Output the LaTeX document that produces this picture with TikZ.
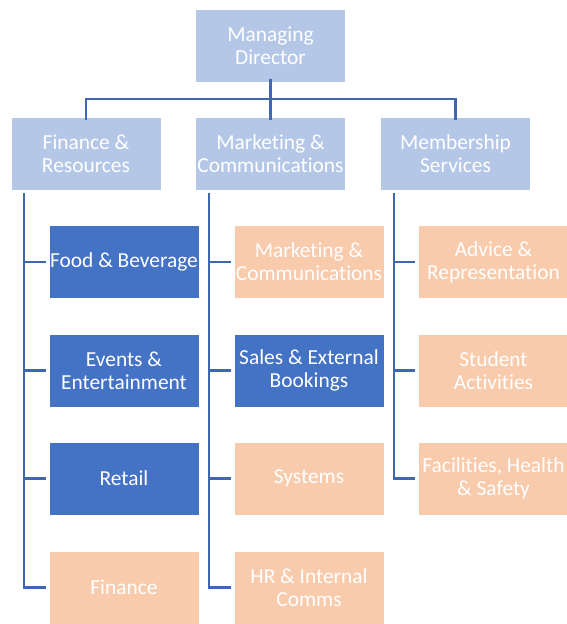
\documentclass[tikz,border=0pt]{standalone}
\usepackage{fontspec}
\setmainfont{Carlito}[Ligatures=NoCommon]
\usetikzlibrary{calc}
\definecolor{headblue}{HTML}{B4C7E7}
\definecolor{darkblue}{HTML}{4472C4}
\definecolor{peach}{HTML}{F8CBAD}
\definecolor{linkblue}{RGB}{64,104,176}
\tikzset{
  unit/.style={draw=white, line width=0.8pt, minimum width=150pt, minimum height=73pt,
    inner sep=0pt, align=center, text=white,
    font=\fontsize{21.4}{23}\selectfont},
  head/.style={unit, fill=headblue},
  core/.style={unit, fill=darkblue},
  support/.style={unit, fill=peach},
  link/.style={draw=linkblue, line width=2.2pt},
}
\begin{document}
\begin{tikzpicture}[x=1pt, y=-1pt]
\useasboundingbox (0,0) rectangle (566,624);

% top level
\node[head] (md) at (270.5,45.5) {Managing\\Director};

% departments
\node[head] (fin) at (86,153.5)    {Finance \&\\Resources};
\node[head] (mkt) at (270.5,153.5) {Marketing \&\\Communications};
\node[head] (mem) at (455.5,153.5) {Membership\\Services};

% Finance & Resources teams
\node[core]    (f1) at (124,262)   {Food \& Beverage};
\node[core]    (f2) at (124,370.5) {Events \&\\Entertainment};
\node[core]    (f3) at (124,478.5) {Retail};
\node[support] (f4) at (124,587.5) {Finance};

% Marketing & Communications teams
\node[support] (m1) at (309,262)   {Marketing \&\\Communications};
\node[core]    (m2) at (309,370.5) {Sales \& External\\Bookings};
\node[support] (m3) at (309,478.5) {Systems};
\node[support] (m4) at (309,587.5) {HR \& Internal\\Comms};

% Membership Services teams
\node[support] (s1) at (493.5,262)   {Advice \&\\Representation};
\node[support] (s2) at (493.5,370.5) {Student\\Activities};
\node[support] (s3) at (493.5,478.5) {Facilities, Health\\\& Safety};

% director to departments
\coordinate (busy) at (0,99);
\draw[link] ([yshift=3pt]md.south) -- ([yshift=-3pt]mkt.north);
\draw[link] ([yshift=-3pt]fin.north) |- (md.south |- busy) -| ([yshift=-3pt]mem.north);

% spine of each department, just inside its left edge
\foreach \d in {fin, mkt, mem}
  \coordinate (\d-spine) at ($(\d.south west)+(13.5,3)$);

% departments to teams
\draw[link] (fin-spine) |- ([xshift=-3pt]f4.west);
\draw[link] (mkt-spine) |- ([xshift=-3pt]m4.west);
\draw[link] (mem-spine) |- ([xshift=-3pt]s3.west);
\foreach \d/\t in {fin/f1, fin/f2, fin/f3, mkt/m1, mkt/m2, mkt/m3, mem/s1, mem/s2}
  \draw[link] (\d-spine |- \t.west) -- ([xshift=-3pt]\t.west);
\end{tikzpicture}
\end{document}
